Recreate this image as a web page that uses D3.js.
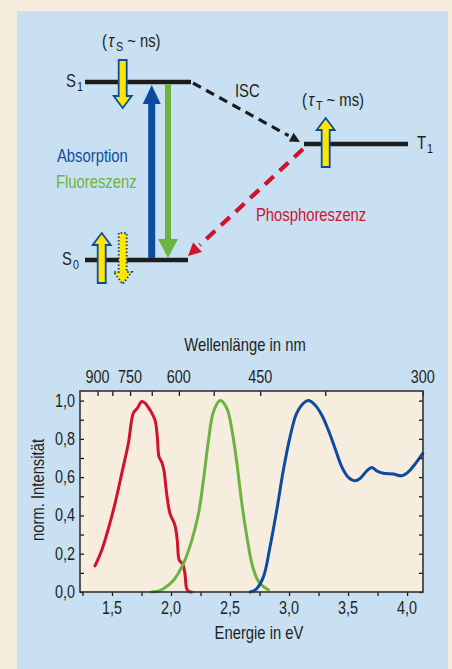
<!DOCTYPE html>
<html><head><meta charset="utf-8">
<script src="https://cdn.jsdelivr.net/npm/d3@7"></script>
<style>
html,body{margin:0;padding:0;background:#f6eddf;}
svg text{font-family:"Liberation Sans",Arial,sans-serif;}
</style></head>
<body><svg id="c" width="452" height="669"></svg>
<script>
// ---- data ----
const redE = [1.356,1.413,1.47,1.526,1.583,1.639,1.681,1.715,1.752,1.78,1.822,1.864,1.884,1.898,1.92,1.94,1.963,1.991,2.033,2.053,2.07,2.098,2.118,2.132,2.15,2.175];
const redI = [0.136,0.218,0.332,0.463,0.62,0.777,0.934,0.96,0.995,0.987,0.951,0.899,0.81,0.707,0.68,0.636,0.515,0.411,0.349,0.271,0.166,0.147,0.096,0.02,0.003,0.0];
const greenE = [1.837,1.9,1.936,2.02,2.105,2.176,2.233,2.275,2.318,2.36,2.417,2.473,2.516,2.558,2.6,2.643,2.685,2.728,2.754,2.79,2.825];
const greenI = [0.0,0.006,0.017,0.06,0.148,0.27,0.41,0.585,0.794,0.942,1.0,0.96,0.847,0.673,0.463,0.289,0.148,0.07,0.045,0.025,0.012];
const blueE = [2.67,2.7,2.726,2.783,2.839,2.896,2.952,3.009,3.065,3.122,3.164,3.22,3.277,3.333,3.39,3.447,3.503,3.56,3.602,3.659,3.701,3.743,3.799,3.884,3.955,4.011,4.082,4.133];
const blueI = [0.0,0.006,0.017,0.079,0.236,0.428,0.637,0.812,0.934,0.986,1.0,0.977,0.925,0.846,0.75,0.654,0.599,0.581,0.593,0.633,0.651,0.633,0.62,0.616,0.607,0.628,0.68,0.724];
const yTickLabels = [0,0.2,0.4,0.6,0.8,1.0];
const yMinor = [0,0.1,0.2,0.3,0.4,0.5,0.6,0.7,0.8,0.9,1.0];
const eTickLabels = [1.5,2.0,2.5,3.0,3.5,4.0];
const eMinor = [1.25,1.5,1.75,2.0,2.25,2.5,2.75,3.0,3.25,3.5,3.75,4.0];
const nmTickLabels = [900,750,600,450,300];
const nmMinor = [900,825,750,675,600,525,450,375,300];

// ---- colours ----
const C = {beige:"#f6eddf", panel:"#c9e0f3", blue:"#0c4c9f", green:"#6cb33f", red:"#d0122a", yellow:"#ffe500", black:"#1c1c1c", text:"#231f20"};
const SQ = 0.8; // horizontal condensing factor for text

function condense(sel){
  sel.each(function(){
    const w = this.getComputedTextLength();
    d3.select(this).attr("textLength", w*SQ).attr("lengthAdjust","spacingAndGlyphs");
  });
  return sel;
}

const svg = d3.select("#c");
svg.append("rect").attr("width",452).attr("height",669).attr("fill",C.beige);
svg.append("rect").attr("x",17).attr("y",11).attr("width",431).attr("height",660).attr("fill",C.panel);

// ---------- spectrum plot ----------
const P = {l:80, r:423, t:391, b:592};
const x = d3.scaleLinear().domain([1.229,4.135]).range([P.l,P.r]);
const y = d3.scaleLinear().domain([0,1.05]).range([P.b,P.t]);
const g = svg.append("g");
g.append("rect").attr("x",P.l).attr("y",P.t).attr("width",P.r-P.l).attr("height",P.b-P.t).attr("fill",C.beige);

const line = d3.line().x(d=>x(d[0])).y(d=>y(d[1])).curve(d3.curveCatmullRom.alpha(0.5));
const series = [[redE,redI,C.red],[greenE,greenI,C.green],[blueE,blueI,C.blue]];
series.forEach(([E,I,col])=>{
  g.append("path").datum(E.map((e,i)=>[e,I[i]])).attr("d",line)
   .attr("fill","none").attr("stroke",col).attr("stroke-width",3).attr("stroke-linejoin","round").attr("stroke-linecap","round");
});

// axes
const tickStroke = C.black;
const bAx = d3.axisBottom(x).tickValues(eMinor).tickSize(4).tickFormat("");
g.append("g").attr("transform",`translate(0,${P.b})`).call(bAx).call(s=>{s.select(".domain").remove(); s.selectAll("line").attr("stroke",tickStroke).attr("stroke-width",1.3);});
g.selectAll(".elab").data(eTickLabels).enter().append("text").attr("class","elab")
 .attr("x",d=>x(d)).attr("y",P.b+22).attr("text-anchor","middle").attr("font-size",18).attr("fill",C.text)
 .text(d=>d3.format(".1f")(d).replace(".",",")).call(condense);
const eOfNm = nm=>1240/nm;
const tAx = d3.axisTop(x).tickValues(nmMinor.map(eOfNm)).tickSize(-5).tickFormat("");
g.append("g").attr("transform",`translate(0,${P.t})`).call(tAx).call(s=>{s.select(".domain").remove(); s.selectAll("line").attr("stroke",tickStroke).attr("stroke-width",1.3);});
g.selectAll(".nlab").data(nmTickLabels).enter().append("text").attr("class","nlab")
 .attr("x",d=>x(eOfNm(d))).attr("y",P.t-8).attr("text-anchor","middle").attr("font-size",18).attr("fill",C.text).text(d=>d).call(condense);
const lAx = d3.axisLeft(y).tickValues(yMinor).tickSize(-4).tickFormat("");
g.append("g").attr("transform",`translate(${P.l},0)`).call(lAx).call(s=>{s.select(".domain").remove(); s.selectAll("line").attr("stroke",tickStroke).attr("stroke-width",1.3);});
g.selectAll(".ylab").data(yTickLabels).enter().append("text").attr("class","ylab")
 .attr("x",P.l-5).attr("y",d=>y(d)+6).attr("text-anchor","end").attr("font-size",18).attr("fill",C.text)
 .text(d=>d3.format(".1f")(d).replace(".",",")).call(condense);
const rAx = d3.axisRight(y).tickValues(yMinor).tickSize(-4).tickFormat("");
g.append("g").attr("transform",`translate(${P.r},0)`).call(rAx).call(s=>{s.select(".domain").remove(); s.selectAll("line").attr("stroke",tickStroke).attr("stroke-width",1.3);});
g.append("rect").attr("x",P.l).attr("y",P.t).attr("width",P.r-P.l).attr("height",P.b-P.t).attr("fill","none").attr("stroke","#333").attr("stroke-width",1.6);
g.append("text").attr("x",245).attr("y",351).attr("text-anchor","middle").attr("font-size",18.5).attr("fill",C.text).text("Wellenlänge in nm").call(condense);
g.append("text").attr("x",259).attr("y",639).attr("text-anchor","middle").attr("font-size",18.5).attr("fill",C.text).text("Energie in eV").call(condense);
g.append("text").attr("transform","translate(44,490) rotate(-90)").attr("text-anchor","middle").attr("font-size",18.5).attr("fill",C.text).text("norm. Intensität").call(condense);

// ---------- Jablonski diagram ----------
const D = svg.append("g");
function piece(x0,y0,str,size,col,italic){
  const t = D.append("text").attr("x",x0).attr("y",y0).attr("font-size",size).attr("fill",col).text(str);
  if(italic) t.attr("font-style","italic");
  condense(t);
  const bb = t.node().getBBox();
  return bb.x + bb.width + 1;
}
function withSub(x0,y0,parts,col){
  let cx = x0;
  parts.forEach(p=>{ cx = piece(cx + (p.gap||0), y0 + (p.sub?4:0), p.t, p.sub?13.5:18.5, col, p.it); });
}

const levels = [
  {name:"S", sub:"1", x1:85, x2:191, y:82, lx:66},
  {name:"S", sub:"0", x1:85, x2:188, y:260, lx:62},
  {name:"T", sub:"1", x1:304, x2:408, y:144, lx:417}
];
levels.forEach(L=>{
  D.append("line").attr("x1",L.x1).attr("x2",L.x2).attr("y1",L.y).attr("y2",L.y).attr("stroke",C.black).attr("stroke-width",4.5);
  withSub(L.lx, L.y+5, [{t:L.name},{t:L.sub,sub:true}], C.text);
});

function solidArrow(x0,yFrom,yTip,shaftW,headW,headL,col){
  const dir = yTip<yFrom?-1:1;
  D.append("line").attr("x1",x0).attr("x2",x0).attr("y1",yFrom).attr("y2",yTip-dir*headL+dir*1).attr("stroke",col).attr("stroke-width",shaftW);
  D.append("path").attr("d",`M${x0-headW/2},${yTip-dir*headL} L${x0+headW/2},${yTip-dir*headL} L${x0},${yTip} Z`).attr("fill",col);
}
solidArrow(151.7,258,85,7,18,19,C.blue);
solidArrow(168,84,258,6,20,19,C.green);

function dashedArrow(x1,y1,x2,y2,w,dash,headL,headW,col){
  const dx=x2-x1, dy=y2-y1, len=Math.hypot(dx,dy), ux=dx/len, uy=dy/len;
  const bx=x2-ux*headL, by=y2-uy*headL;
  D.append("line").attr("x1",x1).attr("y1",y1).attr("x2",bx-ux*3).attr("y2",by-uy*3).attr("stroke",col).attr("stroke-width",w).attr("stroke-dasharray",dash);
  const px=-uy, py=ux;
  D.append("path").attr("d",`M${x2},${y2} L${bx+px*headW/2},${by+py*headW/2} L${bx-px*headW/2},${by-py*headW/2} Z`).attr("fill",col);
}
dashedArrow(193,83,300,142,3.2,"9,6",10,10,C.black);
dashedArrow(303,149,188,256,4.2,"12,8",13,13,C.red);

function spinArrow(x0,yTail,yTip,dotted){
  const dir = yTip<yTail?-1:1;
  const sw=4, hw=9, hl=12;
  const hb = yTip - dir*hl;
  const d = `M${x0-sw},${yTail} L${x0-sw},${hb} L${x0-hw},${hb} L${x0},${yTip} L${x0+hw},${hb} L${x0+sw},${hb} L${x0+sw},${yTail} Z`;
  D.append("path").attr("d",d).attr("fill",C.yellow).attr("stroke",C.blue)
   .attr("stroke-width",dotted?2:1.8).attr("stroke-dasharray",dotted?"1.5,2":null).attr("stroke-linejoin","miter");
}
spinArrow(122.7,60,108,false);
spinArrow(325.7,167,118,false);
spinArrow(101.7,283,233,false);
spinArrow(122.7,233,284,true);

function label(txt,x0,y0,col){
  return D.append("text").attr("x",x0).attr("y",y0).attr("font-size",18.5).attr("fill",col).text(txt).call(condense);
}
label("Absorption",57,162,C.blue);
label("Fluoreszenz",56,188,C.green);
label("Phosphoreszenz",256,221,C.red);
label("ISC",235,97,C.text);
function tauLabel(x0,y0,sub,unit){
  withSub(x0,y0,[{t:"("},{t:"τ",it:true},{t:sub,sub:true},{t:"~ "+unit+")",gap:3}],C.text);
}
tauLabel(102,47,"S","ns");
tauLabel(302,106,"T","ms");
</script></body></html>
